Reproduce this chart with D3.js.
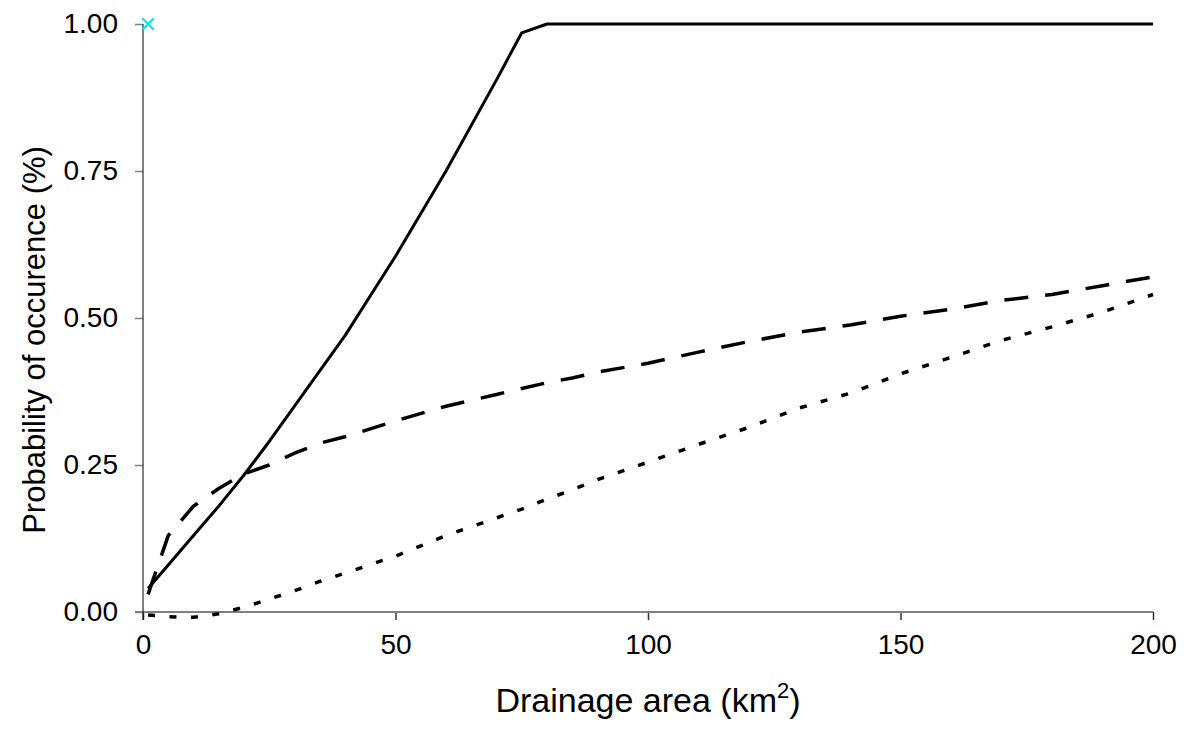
<!DOCTYPE html>
<html>
<head>
<meta charset="utf-8">
<script src="https://cdn.jsdelivr.net/npm/d3@7"></script>
<style>
  body { margin: 0; background: #fff; }
  svg { display: block; font-family: "Liberation Sans", Arial, sans-serif; }
</style>
</head>
<body>
<svg id="chart" width="1191" height="738"></svg>
<script>
// drainage area (km2)
var areas = [1, 5, 10, 15, 20, 25, 30, 35, 40, 50, 60, 70, 75, 80, 85, 90, 100, 110, 120, 130, 140, 150, 160, 170, 180, 190, 200];
// probability of occurence, three curves
var solidVals  = [0.04, 0.08, 0.13, 0.18, 0.233, 0.29, 0.35, 0.41, 0.47, 0.605, 0.75, 0.905, 0.985, 1, 1, 1, 1, 1, 1, 1, 1, 1, 1, 1, 1, 1, 1];
var dashedVals = [0.03, 0.13, 0.18, 0.21, 0.235, 0.25, 0.27, 0.287, 0.298, 0.325, 0.35, 0.37, 0.38, 0.39, 0.398, 0.408, 0.423, 0.442, 0.46, 0.476, 0.488, 0.503, 0.515, 0.53, 0.54, 0.555, 0.57];
var dottedVals = [-0.005, -0.008, -0.009, -0.003, 0.008, 0.022, 0.036, 0.052, 0.066, 0.095, 0.13, 0.16, 0.175, 0.192, 0.208, 0.225, 0.255, 0.285, 0.314, 0.347, 0.372, 0.405, 0.433, 0.462, 0.485, 0.51, 0.54];
var marker = [[1, 1]]; // the lone cyan cross
var xTicks = [0, 50, 100, 150, 200];
var yTicks = [0, 0.25, 0.5, 0.75, 1];

(function () {
    var svg = d3.select("#chart");
    var mLeft = 143, mRight = 1153, mTop = 24, mBottom = 612;

    var x = d3.scaleLinear().domain([0, 200]).range([mLeft, mRight]);
    var y = d3.scaleLinear().domain([0, 1]).range([mBottom, mTop]);

    // x axis (grey line, ticks below)
    var xAxis = svg.append("g")
        .attr("transform", "translate(0," + mBottom + ")")
        .call(d3.axisBottom(x).tickValues(xTicks).tickSize(8).tickPadding(14).tickSizeOuter(0));
    xAxis.select(".domain").remove();
    xAxis.append("line")
        .attr("x1", mLeft - 8).attr("x2", mRight)
        .attr("stroke", "#808080").attr("stroke-width", 2);
    xAxis.selectAll(".tick line").attr("stroke", "#333").attr("stroke-width", 1.5);
    xAxis.selectAll(".tick text").attr("font-size", 28).attr("fill", "#000")
        .attr("font-family", "Liberation Sans, Arial, sans-serif");

    // y axis
    var yAxis = svg.append("g")
        .attr("transform", "translate(" + mLeft + ",0)")
        .call(d3.axisLeft(y).tickValues(yTicks).tickFormat(d3.format(".2f")).tickSize(8).tickPadding(17).tickSizeOuter(0));
    yAxis.select(".domain").remove();
    yAxis.append("line")
        .attr("y1", mTop).attr("y2", mBottom + 8)
        .attr("stroke", "#000").attr("stroke-width", 1);
    yAxis.selectAll(".tick line").attr("stroke", "#808080").attr("stroke-width", 1.5);
    yAxis.selectAll(".tick text").attr("font-size", 28).attr("fill", "#000")
        .attr("font-family", "Liberation Sans, Arial, sans-serif");

    // series
    var line = d3.line().x(function (d) { return x(d[0]); }).y(function (d) { return y(d[1]); });
    function series(vals, dash, w) {
        svg.append("path")
            .datum(areas.map(function (a, i) { return [a, vals[i]]; }))
            .attr("d", line)
            .attr("fill", "none")
            .attr("stroke", "#000")
            .attr("stroke-width", w)
            .attr("stroke-linejoin", "round")
            .attr("stroke-dasharray", dash);
    }
    series(solidVals, null, 3);
    series(dashedVals, "24,17", 3.5);
    series(dottedVals, "7,14.5", 3.5);

    // cyan cross (stroke symbol)
    svg.selectAll(".mk").data(marker).enter().append("path")
        .attr("class", "mk")
        .attr("d", d3.symbol(d3.symbolTimes, 90))
        .attr("transform", function (d) { return "translate(" + x(d[0]) + "," + y(d[1]) + ")"; })
        .attr("fill", "none")
        .attr("stroke", "#00e5ee")
        .attr("stroke-width", 2);

    // axis titles
    var xt = svg.append("text")
        .attr("x", (mLeft + mRight) / 2).attr("y", 712)
        .attr("text-anchor", "middle").attr("font-size", 34);
    xt.append("tspan").text("Drainage area (km");
    xt.append("tspan").attr("font-size", 22).attr("dy", -14).text("2");
    xt.append("tspan").attr("dy", 14).text(")");

    svg.append("text")
        .attr("transform", "translate(45,340) rotate(-90)")
        .attr("text-anchor", "middle").attr("font-size", 31)
        .text("Probability of occurence (%)");
})();
</script>
</body>
</html>
